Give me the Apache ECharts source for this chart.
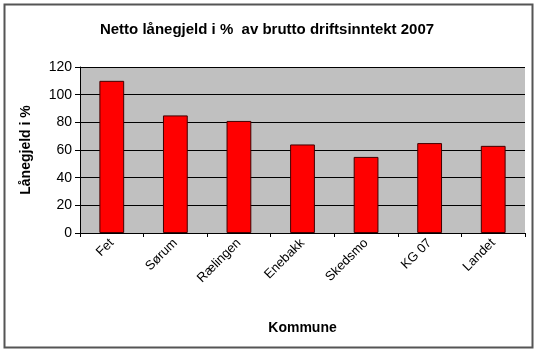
<!DOCTYPE html>
<html>
<head>
<meta charset="utf-8">
<script src="https://cdn.jsdelivr.net/npm/echarts@6/dist/echarts.min.js"></script>
<style>
  html, body { margin: 0; padding: 0; background: #fff; }
  #main { width: 540px; height: 352px; }
</style>
</head>
<body>
<div id="main"></div>
<script>
const categories = ['Fet', 'Sørum', 'Rælingen', 'Enebakk', 'Skedsmo', 'KG 07', 'Landet'];
const lanegjeld = [110, 85, 81, 64, 55, 65, 63];
const yTicks = [0, 20, 40, 60, 80, 100, 120];

const chart = echarts.init(document.getElementById('main'));

const option = {
  animation: false,
  textStyle: { fontFamily: 'Liberation Sans, Arial, sans-serif' },
  title: {
    text: 'Netto lånegjeld i %  av brutto driftsinntekt 2007',
    left: 262,
    textAlign: 'center',
    top: 17,
    textStyle: { fontSize: 15, fontWeight: 'bold', color: '#000' }
  },
  graphic: [
    {
      type: 'rect',
      shape: { x: 4.5, y: 4.5, width: 528, height: 343 },
      style: { fill: 'none', stroke: '#555', lineWidth: 2 },
      z: -1
    }
  ],
  grid: {
    left: 80, right: 15, top: 67, bottom: 119,
    show: true,
    backgroundColor: '#c0c0c0',
    borderWidth: 0
  },
  xAxis: {
    type: 'category',
    data: categories,
    name: 'Kommune',
    nameLocation: 'middle',
    nameGap: 88,
    nameTextStyle: { fontSize: 14, fontWeight: 'bold', color: '#000' },
    axisLine: { lineStyle: { color: '#000', width: 1 } },
    axisTick: { show: true, length: 4, lineStyle: { color: '#000' } },
    axisLabel: { rotate: 45, fontSize: 13, color: '#000', margin: 8 }
  },
  yAxis: {
    type: 'value',
    min: 0,
    max: 120,
    interval: 20,
    name: 'Lånegjeld i %',
    nameLocation: 'middle',
    nameGap: 47,
    nameTextStyle: { fontSize: 14, fontWeight: 'bold', color: '#000' },
    axisLine: { show: true, lineStyle: { color: '#000', width: 1 } },
    axisTick: { show: true, length: 5, lineStyle: { color: '#000' } },
    axisLabel: {
      fontSize: 14, color: '#000', margin: 8,
      formatter: v => yTicks.includes(v) ? String(v) : ''
    },
    splitLine: { show: true, lineStyle: { color: '#000', width: 1 } }
  },
  series: [
    {
      type: 'bar',
      data: lanegjeld,
      barWidth: '39%',
      itemStyle: { color: '#ff0000', borderColor: '#400000', borderWidth: 1 }
    }
  ]
};

chart.setOption(option);
</script>
</body>
</html>
